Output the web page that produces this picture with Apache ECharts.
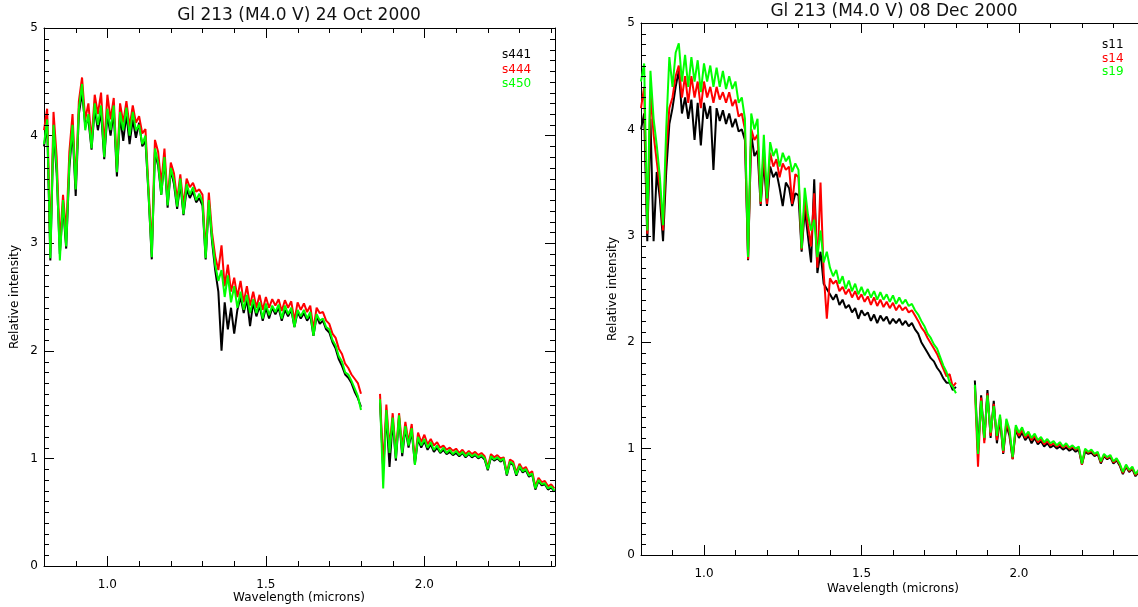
<!DOCTYPE html>
<html>
<head>
<meta charset="utf-8">
<script src="https://cdn.jsdelivr.net/npm/echarts@6.0.0/dist/echarts.min.js"></script>
<style>
  html, body { margin: 0; padding: 0; background: #fff; }
  #main { width: 1138px; height: 607px; }
</style>
</head>
<body>
<div id="main"></div>
<script>
// wavelength grid (microns), 1.83 marks the telluric gap
var wave = [
  0.80, 0.81, 0.82, 0.83, 0.84, 0.85, 0.86, 0.87, 0.88, 0.89,
  0.90, 0.91, 0.92, 0.93, 0.94, 0.95, 0.96, 0.97, 0.98, 0.99,
  1.00, 1.01, 1.02, 1.03, 1.04, 1.05, 1.06, 1.07, 1.08, 1.09,
  1.10, 1.11, 1.12, 1.13, 1.14, 1.15, 1.16, 1.17, 1.18, 1.19,
  1.20, 1.21, 1.22, 1.23, 1.24, 1.25, 1.26, 1.27, 1.28, 1.29,
  1.30, 1.31, 1.32, 1.33, 1.34, 1.35, 1.36, 1.37, 1.38, 1.39,
  1.40, 1.41, 1.42, 1.43, 1.44, 1.45, 1.46, 1.47, 1.48, 1.49,
  1.50, 1.51, 1.52, 1.53, 1.54, 1.55, 1.56, 1.57, 1.58, 1.59,
  1.60, 1.61, 1.62, 1.63, 1.64, 1.65, 1.66, 1.67, 1.68, 1.69,
  1.70, 1.71, 1.72, 1.73, 1.74, 1.75, 1.76, 1.77, 1.78, 1.79,
  1.80, 1.83,
  1.86, 1.87, 1.88, 1.89,
  1.90, 1.91, 1.92, 1.93, 1.94, 1.95, 1.96, 1.97, 1.98, 1.99,
  2.00, 2.01, 2.02, 2.03, 2.04, 2.05, 2.06, 2.07, 2.08, 2.09,
  2.10, 2.11, 2.12, 2.13, 2.14, 2.15, 2.16, 2.17, 2.18, 2.19,
  2.20, 2.21, 2.22, 2.23, 2.24, 2.25, 2.26, 2.27, 2.28, 2.29,
  2.30, 2.31, 2.32, 2.33, 2.34, 2.35, 2.36, 2.37, 2.38, 2.39,
  2.40, 2.41
]

// 24 Oct 2000
var s441 = [
  3.90, 4.10, 2.84, 4.05, 3.65, 2.90, 3.35, 2.95, 3.70, 4.05,
  3.44, 4.20, 4.40, 4.10, 4.15, 3.87, 4.25, 4.05, 4.22, 3.78,
  4.20, 4.00, 4.22, 3.62, 4.18, 3.95, 4.20, 3.92, 4.15, 3.98,
  4.12, 3.90, 3.95, 3.44, 2.85, 3.85, 3.72, 3.45, 3.78, 3.33,
  3.68, 3.55, 3.32, 3.55, 3.26, 3.50, 3.42, 3.48, 3.38, 3.42,
  3.35, 2.85, 3.38, 3.02, 2.75, 2.55, 2.00, 2.45, 2.20, 2.40,
  2.16, 2.38, 2.50, 2.35, 2.48, 2.23, 2.45, 2.32, 2.42, 2.28,
  2.40, 2.30, 2.40, 2.34, 2.40, 2.28, 2.38, 2.32, 2.38, 2.22,
  2.36, 2.30, 2.35, 2.28, 2.33, 2.14, 2.32, 2.25, 2.28, 2.20,
  2.17, 2.08, 2.02, 1.92, 1.86, 1.78, 1.75, 1.70, 1.62, 1.56,
  1.48, null,
  1.52, 0.90, 1.40, 0.92,
  1.35, 0.98, 1.38, 1.02, 1.28, 1.10, 1.25, 0.95, 1.18, 1.10,
  1.16, 1.08, 1.13, 1.06, 1.10, 1.05, 1.08, 1.04, 1.06, 1.03,
  1.05, 1.02, 1.05, 1.01, 1.04, 1.01, 1.03, 1.00, 1.02, 0.99,
  0.89, 1.01, 0.98, 1.00, 0.97, 0.99, 0.84, 0.96, 0.94, 0.84,
  0.92, 0.87, 0.89, 0.83, 0.85, 0.71, 0.79, 0.75, 0.76, 0.71,
  0.73, 0.69
]
var s444 = [
  4.05, 4.25, 2.95, 4.22, 3.80, 3.00, 3.45, 3.10, 3.85, 4.20,
  3.55, 4.32, 4.54, 4.15, 4.30, 3.95, 4.38, 4.20, 4.40, 3.90,
  4.38, 4.15, 4.35, 3.70, 4.30, 4.12, 4.32, 4.08, 4.28, 4.12,
  4.18, 4.02, 4.06, 3.50, 2.95, 3.96, 3.85, 3.55, 3.88, 3.40,
  3.75, 3.65, 3.40, 3.64, 3.35, 3.60, 3.52, 3.56, 3.48, 3.50,
  3.45, 2.92, 3.47, 3.10, 2.88, 2.75, 2.98, 2.60, 2.80, 2.55,
  2.68, 2.50, 2.65, 2.45, 2.60, 2.42, 2.55, 2.40, 2.52, 2.38,
  2.50, 2.40, 2.48, 2.42, 2.48, 2.37, 2.47, 2.40, 2.46, 2.28,
  2.45, 2.38, 2.44, 2.36, 2.42, 2.20, 2.40, 2.35, 2.36, 2.28,
  2.25, 2.16, 2.12, 2.02, 1.97, 1.88, 1.84, 1.78, 1.74, 1.70,
  1.60, null,
  1.60, 0.90, 1.50, 1.10,
  1.42, 1.05, 1.42, 1.10, 1.34, 1.15, 1.32, 0.98, 1.24, 1.15,
  1.22, 1.13, 1.18, 1.12, 1.15, 1.10, 1.12, 1.08, 1.10, 1.07,
  1.09, 1.05, 1.08, 1.04, 1.07, 1.04, 1.06, 1.03, 1.05, 1.02,
  0.92, 1.04, 1.01, 1.03, 1.00, 1.01, 0.87, 0.99, 0.97, 0.87,
  0.95, 0.90, 0.92, 0.86, 0.88, 0.74, 0.82, 0.78, 0.79, 0.74,
  0.76, 0.72
]
var s450 = [
  3.92, 4.15, 2.86, 4.10, 3.70, 2.84, 3.40, 2.97, 3.75, 4.10,
  3.50, 4.25, 4.48, 4.05, 4.20, 3.88, 4.30, 4.10, 4.28, 3.80,
  4.25, 4.05, 4.28, 3.66, 4.22, 4.05, 4.26, 4.00, 4.22, 4.05,
  4.10, 3.92, 4.00, 3.45, 2.87, 3.88, 3.75, 3.45, 3.80, 3.35,
  3.70, 3.58, 3.34, 3.60, 3.27, 3.55, 3.45, 3.52, 3.40, 3.46,
  3.38, 2.86, 3.40, 3.05, 2.80, 2.65, 2.75, 2.50, 2.70, 2.45,
  2.60, 2.40, 2.55, 2.38, 2.52, 2.35, 2.48, 2.35, 2.45, 2.30,
  2.44, 2.33, 2.42, 2.36, 2.43, 2.30, 2.42, 2.34, 2.40, 2.22,
  2.38, 2.32, 2.38, 2.30, 2.36, 2.14, 2.34, 2.28, 2.30, 2.22,
  2.20, 2.10, 2.05, 1.95, 1.90, 1.80, 1.78, 1.72, 1.65, 1.58,
  1.45, null,
  1.55, 0.72, 1.45, 1.05,
  1.38, 1.00, 1.40, 1.05, 1.30, 1.12, 1.28, 0.94, 1.20, 1.12,
  1.18, 1.10, 1.15, 1.08, 1.12, 1.06, 1.10, 1.05, 1.08, 1.04,
  1.07, 1.03, 1.06, 1.02, 1.05, 1.02, 1.04, 1.01, 1.03, 1.00,
  0.90, 1.02, 0.99, 1.01, 0.98, 1.00, 0.85, 0.97, 0.95, 0.85,
  0.93, 0.88, 0.90, 0.84, 0.86, 0.72, 0.80, 0.76, 0.77, 0.72,
  0.74, 0.70
]

// 08 Dec 2000
var s11 = [
  4.00, 4.15, 2.95, 4.10, 2.95, 3.60, 3.35, 2.95, 3.60, 4.05,
  4.20, 4.40, 4.55, 4.15, 4.30, 4.10, 4.28, 3.90, 4.25, 3.85,
  4.25, 4.10, 4.22, 3.62, 4.20, 4.08, 4.18, 4.05, 4.15, 4.02,
  4.10, 3.98, 4.00, 3.90, 2.77, 3.95, 3.75, 3.80, 3.28, 3.70,
  3.28, 3.65, 3.55, 3.60, 3.45, 3.28, 3.50, 3.45, 3.28, 3.40,
  3.38, 2.85, 3.25, 3.00, 2.75, 3.53, 2.65, 2.85, 2.55, 2.50,
  2.45, 2.40, 2.45, 2.35, 2.40, 2.32, 2.35, 2.28, 2.32, 2.22,
  2.30, 2.25, 2.28, 2.20, 2.26, 2.18, 2.25, 2.20, 2.24, 2.17,
  2.22, 2.18, 2.22, 2.16, 2.20, 2.15, 2.18, 2.12, 2.08, 2.00,
  1.95, 1.90, 1.85, 1.82, 1.76, 1.72, 1.66, 1.62, 1.62, 1.55,
  1.58, null,
  1.64, 0.98, 1.50, 1.08,
  1.55, 1.10, 1.45, 1.05, 1.28, 0.95, 1.22, 1.12, 0.90, 1.18,
  1.10, 1.15, 1.08, 1.12, 1.05, 1.10, 1.04, 1.07, 1.02, 1.05,
  1.01, 1.03, 1.00, 1.02, 0.99, 1.01, 0.98, 1.00, 0.97, 0.99,
  0.85, 0.97, 0.95, 0.96, 0.93, 0.95, 0.86, 0.93, 0.90, 0.92,
  0.86, 0.89, 0.84, 0.76, 0.83, 0.78, 0.81, 0.74, 0.78, 0.73,
  0.76, 0.72
]
var s14 = [
  4.20, 4.40, 3.02, 4.35, 3.95, 3.70, 3.45, 3.05, 3.80, 4.20,
  4.30, 4.50, 4.60, 4.30, 4.50, 4.25, 4.50, 4.30, 4.45, 4.20,
  4.45, 4.30, 4.40, 4.25, 4.40, 4.28, 4.35, 4.25, 4.35, 4.22,
  4.28, 4.12, 4.15, 4.00, 2.78, 4.00, 3.90, 3.95, 3.30, 3.82,
  3.30, 3.78, 3.65, 3.72, 3.55, 3.68, 3.62, 3.65, 3.30, 3.58,
  3.55, 2.87, 3.35, 3.10, 2.90, 3.40, 2.70, 3.50, 2.65, 2.22,
  2.60, 2.55, 2.58, 2.48, 2.52, 2.45, 2.50, 2.42, 2.48, 2.40,
  2.45, 2.38, 2.43, 2.35, 2.42, 2.34, 2.40, 2.33, 2.38, 2.32,
  2.37, 2.30, 2.35, 2.30, 2.33, 2.28, 2.30, 2.25, 2.20, 2.14,
  2.10, 2.04, 1.99, 1.94, 1.89, 1.82, 1.75, 1.68, 1.70, 1.58,
  1.62, null,
  1.58, 0.83, 1.48, 1.05,
  1.52, 1.12, 1.42, 1.08, 1.30, 0.96, 1.25, 1.15, 0.90, 1.20,
  1.12, 1.18, 1.10, 1.14, 1.08, 1.12, 1.06, 1.09, 1.04, 1.07,
  1.03, 1.05, 1.02, 1.04, 1.01, 1.03, 1.00, 1.02, 0.99, 1.01,
  0.85, 0.99, 0.96, 0.98, 0.94, 0.96, 0.87, 0.94, 0.91, 0.93,
  0.87, 0.90, 0.85, 0.77, 0.84, 0.79, 0.82, 0.75, 0.79, 0.74,
  0.77, 0.73
]
var s19 = [
  4.45, 4.62, 3.05, 4.55, 4.10, 3.85, 3.55, 3.10, 4.00, 4.68,
  4.40, 4.72, 4.81, 4.45, 4.70, 4.40, 4.68, 4.45, 4.65, 4.35,
  4.62, 4.45, 4.60, 4.40, 4.58, 4.40, 4.55, 4.38, 4.50, 4.38,
  4.45, 4.25, 4.30, 4.10, 2.80, 4.15, 4.00, 4.10, 3.32, 3.95,
  3.35, 3.88, 3.75, 3.82, 3.65, 3.78, 3.70, 3.75, 3.60, 3.68,
  3.62, 2.88, 3.45, 3.20, 3.05, 3.15, 2.80, 3.05, 2.75, 2.85,
  2.70, 2.62, 2.68, 2.55, 2.62, 2.50, 2.58, 2.48, 2.55, 2.45,
  2.52, 2.44, 2.50, 2.42, 2.48, 2.40, 2.47, 2.40, 2.45, 2.38,
  2.44, 2.36, 2.42, 2.36, 2.40, 2.34, 2.36, 2.30, 2.26, 2.20,
  2.15, 2.08, 2.04, 1.98, 1.94, 1.86, 1.78, 1.72, 1.62, 1.58,
  1.52, null,
  1.60, 0.95, 1.45, 1.10,
  1.50, 1.15, 1.40, 1.12, 1.32, 0.98, 1.28, 1.18, 0.92, 1.22,
  1.15, 1.20, 1.12, 1.16, 1.10, 1.14, 1.08, 1.11, 1.06, 1.09,
  1.05, 1.07, 1.03, 1.06, 1.02, 1.05, 1.01, 1.03, 1.00, 1.02,
  0.86, 1.00, 0.97, 0.99, 0.95, 0.97, 0.88, 0.95, 0.92, 0.94,
  0.88, 0.91, 0.86, 0.78, 0.85, 0.80, 0.83, 0.76, 0.80, 0.75,
  0.78, 0.74
]

// axis ticks
var xMajor = [1.0, 1.5, 2.0]
var xMinor = [0.9, 1.1, 1.2, 1.3, 1.4, 1.6, 1.7, 1.8, 1.9, 2.1, 2.2, 2.3, 2.4]
var yMinor = []
for (var k = 1; k < 50; k++) {
  if (k % 10 !== 0) yMinor.push(k / 10)
}
var xMin = 0.8
var xMaxLeft = 2.412
var xMaxRight = 2.378 // right panel is cut off by the picture edge
var FONT = 'DejaVu Sans'

function pairs(w, v) {
  return w.map(function (x, i) {
    return [x, v[i]]
  })
}

var tickFont = { color: '#000', fontFamily: FONT, fontSize: 12 }

function xAxis(g, max, position, withLabels) {
  var ax = {
    gridIndex: g,
    type: 'value',
    min: xMin,
    max: max,
    position: position,
    splitLine: { show: false },
    axisLine: { show: true, onZero: false, lineStyle: { color: '#000', width: 1 } },
    axisTick: { show: true, inside: true, length: 10, customValues: xMajor, lineStyle: { color: '#000', width: 1 } },
    axisLabel: { show: false },
  }
  if (withLabels) {
    ax.axisLabel = Object.assign(
      {
        show: true,
        customValues: xMajor,
        margin: 13,
        formatter: function (v) {
          return v.toFixed(1)
        },
      },
      tickFont
    )
  }
  return ax
}

function yAxis(g, position, withLabels) {
  var ax = {
    gridIndex: g,
    type: 'value',
    min: 0,
    max: 5,
    interval: 1,
    position: position,
    splitLine: { show: false },
    axisLine: { show: true, onZero: false, lineStyle: { color: '#000', width: 1 } },
    axisTick: { show: true, inside: true, length: 10, lineStyle: { color: '#000', width: 1 } },
    axisLabel: { show: false },
  }
  if (withLabels) {
    ax.axisLabel = Object.assign({ show: true, margin: 6 }, tickFont)
  }
  return ax
}

function spec(name, v, color, xi, yi) {
  return {
    name: name,
    type: 'line',
    xAxisIndex: xi,
    yAxisIndex: yi,
    data: pairs(wave, v),
    showSymbol: false,
    symbol: 'none',
    connectNulls: false,
    lineStyle: { color: color, width: 2 },
    itemStyle: { color: color },
    animation: false,
  }
}

// short minor tick marks on the plot box, placed through the axes' scales
function crisp(p) {
  return Math.round(p) + 0.5
}
var tickStyle = { stroke: '#000', lineWidth: 1 }

function xMinorTicks(xi, yi) {
  return {
    type: 'custom',
    xAxisIndex: xi,
    yAxisIndex: yi,
    silent: true,
    animation: false,
    z: 5,
    data: xMinor.map(function (v) {
      return [v, 0]
    }),
    renderItem: function (params, api) {
      var v = api.value(0)
      var b = api.coord([v, 0])
      var t = api.coord([v, 5])
      var x = crisp(b[0])
      return {
        type: 'group',
        children: [
          { type: 'line', shape: { x1: x, y1: b[1], x2: x, y2: b[1] - 5 }, style: tickStyle },
          { type: 'line', shape: { x1: x, y1: t[1], x2: x, y2: t[1] + 5 }, style: tickStyle },
        ],
      }
    },
  }
}

function yMinorTicks(xi, yi, xMax, bothSides) {
  return {
    type: 'custom',
    xAxisIndex: xi,
    yAxisIndex: yi,
    silent: true,
    animation: false,
    z: 5,
    data: yMinor.map(function (v) {
      return [xMin, v]
    }),
    renderItem: function (params, api) {
      var v = api.value(1)
      var l = api.coord([xMin, v])
      var r = api.coord([xMax, v])
      var y = crisp(l[1])
      var kids = [{ type: 'line', shape: { x1: l[0], y1: y, x2: l[0] + 5, y2: y }, style: tickStyle }]
      if (bothSides) {
        kids.push({ type: 'line', shape: { x1: r[0], y1: y, x2: r[0] - 5, y2: y }, style: tickStyle })
      }
      return { type: 'group', children: kids }
    },
  }
}

function text(str, x, y, color, size, align, rotation) {
  return {
    type: 'text',
    x: x,
    y: y,
    rotation: rotation || 0,
    style: {
      text: str,
      fill: color,
      font: size + 'px "' + FONT + '"',
      textAlign: align,
      textVerticalAlign: 'middle',
    },
  }
}

var chart = echarts.init(document.getElementById('main'))

var option = {
  animation: false,
  backgroundColor: '#fff',
  grid: [
    { left: 44, top: 28, width: 511, height: 538 },
    { left: 641, top: 23, width: 497, height: 532 },
  ],
  xAxis: [
    xAxis(0, xMaxLeft, 'bottom', true),
    xAxis(0, xMaxLeft, 'top', false),
    xAxis(1, xMaxRight, 'bottom', true),
    xAxis(1, xMaxRight, 'top', false),
  ],
  yAxis: [yAxis(0, 'left', true), yAxis(0, 'right', false), yAxis(1, 'left', true)],
  series: [
    spec('s441', s441, '#000000', 0, 0),
    spec('s444', s444, '#ff0000', 0, 0),
    spec('s450', s450, '#00ff00', 0, 0),
    spec('s11', s11, '#000000', 2, 2),
    spec('s14', s14, '#ff0000', 2, 2),
    spec('s19', s19, '#00ff00', 2, 2),
    xMinorTicks(0, 0),
    yMinorTicks(0, 0, xMaxLeft, true),
    xMinorTicks(2, 2),
    yMinorTicks(2, 2, xMaxRight, false),
  ],
  graphic: [
    text('Gl 213 (M4.0 V) 24 Oct 2000', 299, 16, '#111', 17, 'center'),
    text('Gl 213 (M4.0 V) 08 Dec 2000', 894, 12, '#111', 17, 'center'),
    text('Wavelength (microns)', 299, 598, '#000', 12, 'center'),
    text('Wavelength (microns)', 893, 589, '#000', 12, 'center'),
    text('Relative intensity', 15, 297, '#000', 12, 'center', Math.PI / 2),
    text('Relative intensity', 613, 289, '#000', 12, 'center', Math.PI / 2),
    text('s441', 502, 55, '#000000', 12, 'left'),
    text('s444', 502, 70, '#ff0000', 12, 'left'),
    text('s450', 502, 84, '#00ff00', 12, 'left'),
    text('s11', 1102, 45, '#000000', 12, 'left'),
    text('s14', 1102, 59, '#ff0000', 12, 'left'),
    text('s19', 1102, 72, '#00ff00', 12, 'left'),
  ],
}

chart.setOption(option)
</script>
</body>
</html>
